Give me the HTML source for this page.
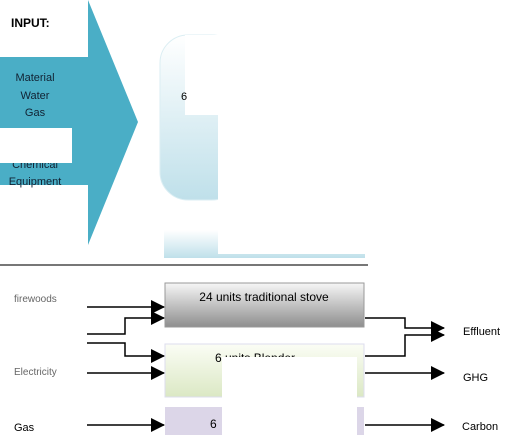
<!DOCTYPE html>
<html><head><meta charset="utf-8"><style>
body{margin:0;background:#fff}
svg{display:block;font-family:"Liberation Sans",sans-serif}
</style></head><body>
<svg width="510" height="435" viewBox="0 0 510 435">
<defs>
<linearGradient id="gb" x1="0" y1="0" x2="0" y2="1"><stop offset="0" stop-color="#fff"/><stop offset="1" stop-color="#bfe0ea"/></linearGradient>
<linearGradient id="gs" x1="0" y1="0" x2="0" y2="1"><stop offset="0" stop-color="#f6f6f6"/><stop offset="1" stop-color="#8e8e8e"/></linearGradient>
<linearGradient id="gg" x1="0" y1="0" x2="0" y2="1"><stop offset="0" stop-color="#fbfdf5"/><stop offset="1" stop-color="#dbe8c4"/></linearGradient>
<marker id="ah" markerWidth="14" markerHeight="14" refX="13" refY="7" orient="auto" markerUnits="userSpaceOnUse"><path d="M0,0L14,7L0,14z" fill="#000"/></marker>
</defs>
<path d="M0,57H88V0L138,122L88,245V185H0Z" fill="#4aaec6"/>
<rect x="0" y="0" width="88" height="57" fill="#fff"/>
<text x="11" y="27" font-size="12" font-weight="bold">INPUT:</text>
<g font-size="11" fill="#123" text-anchor="middle">
<text x="35" y="81">Material</text><text x="35" y="99">Water</text><text x="35" y="116">Gas</text>
<text x="35" y="168">Chemical</text><text x="35" y="185">Equipment</text></g>
<rect x="0" y="128" width="72" height="35" fill="#fff"/>
<rect x="160" y="35" width="80" height="165" rx="28" fill="url(#gb)" stroke="#dbeef3"/>
<rect x="185" y="35" width="190" height="80" fill="#fff"/>
<rect x="218" y="35" width="160" height="200" fill="#fff"/>
<text x="181" y="100" font-size="11">6</text>
<rect x="164" y="230" width="201" height="28" fill="url(#gb)"/>
<rect x="218" y="228" width="147" height="26" fill="#fff"/>
<rect x="0" y="264" width="368" height="2" fill="#777"/>
<rect x="165" y="283" width="199" height="44" fill="url(#gs)" stroke="#999"/>
<text x="264" y="301" font-size="12" text-anchor="middle">24 units traditional stove</text>
<rect x="165" y="344" width="199" height="53" fill="url(#gg)" stroke="#dde"/>
<text x="215" y="362" font-size="12">6 units Blender</text>
<rect x="165" y="407" width="199" height="30" fill="#dcd6e8"/>
<text x="210" y="428" font-size="12">6</text>
<rect x="222" y="357" width="135" height="80" fill="#fff"/>
<g stroke="#000" stroke-width="1.5" fill="none">
<path d="M87,307H164" marker-end="url(#ah)"/>
<path d="M87,334H125V318H164" marker-end="url(#ah)"/>
<path d="M87,343H125V356H164" marker-end="url(#ah)"/>
<path d="M87,373H164" marker-end="url(#ah)"/>
<path d="M87,425H164" marker-end="url(#ah)"/>
<path d="M365,318H405V328H444" marker-end="url(#ah)"/>
<path d="M365,356H405V335H444" marker-end="url(#ah)"/>
<path d="M365,373H444" marker-end="url(#ah)"/>
<path d="M365,425H444" marker-end="url(#ah)"/>
</g>
<text x="14" y="302" font-size="10" fill="#666">firewoods</text>
<text x="14" y="375" font-size="10" fill="#666">Electricity</text>
<text x="14" y="431" font-size="11">Gas</text>
<text x="463" y="335" font-size="11">Effluent</text>
<text x="463" y="381" font-size="11">GHG</text>
<text x="462" y="430" font-size="11">Carbon</text>
</svg>
</body></html>
